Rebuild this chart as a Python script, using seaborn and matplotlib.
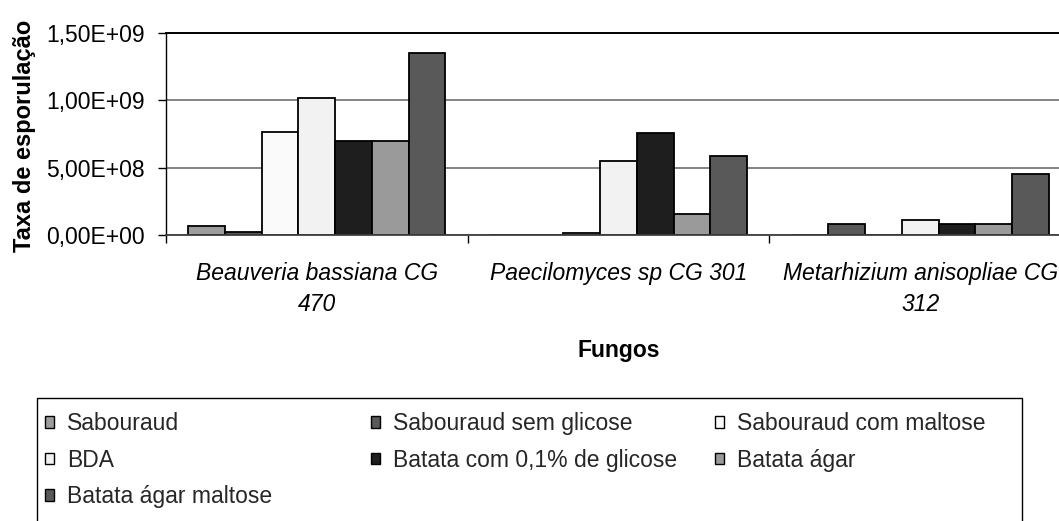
import matplotlib
matplotlib.use("Agg")
import numpy as np
import pandas as pd
import seaborn as sns
import matplotlib.pyplot as plt
from matplotlib.patches import Patch, Rectangle
from matplotlib.ticker import FuncFormatter

# ---------------- data ----------------
fungos = ["Beauveria bassiana CG\n470", "Paecilomyces sp CG 301", "Metarhizium anisopliae CG\n312"]
meios = ["Sabouraud", "Sabouraud sem glicose", "Sabouraud com maltose", "BDA",
         "Batata com 0,1% de glicose", "Batata ágar", "Batata ágar maltose"]

sabouraud = [7.0e7, 0.0, 0.0]
sabouraud_sem_glicose = [2.5e7, 0.0, 8.4e7]
sabouraud_com_maltose = [7.67e8, 1.5e7, 0.0]
bda = [1.015e9, 5.5e8, 1.1e8]
batata_glicose = [6.95e8, 7.55e8, 8.4e7]
batata_agar = [6.95e8, 1.58e8, 8.4e7]
batata_agar_maltose = [1.355e9, 5.9e8, 4.5e8]

series = [sabouraud, sabouraud_sem_glicose, sabouraud_com_maltose, bda,
          batata_glicose, batata_agar, batata_agar_maltose]
cores = ["#9d9d9d", "#595959", "#fafafa", "#f2f2f2", "#1e1e1e", "#9a9a9a", "#595959"]

rows = []
for meio, vals in zip(meios, series):
    for f, v in zip(fungos, vals):
        rows.append({"Fungo": f, "Meio": meio, "Taxa": v})
df = pd.DataFrame(rows)

# ---------------- figure ----------------
sns.set_theme(style="white")
plt.rcParams["font.family"] = ["Liberation Sans", "DejaVu Sans"]
FS = 16.5

W, H = 1059, 521
fig = plt.figure(figsize=(W / 100, H / 100), dpi=100)
ax = fig.add_axes([166 / W, 1 - 235 / H, 905 / W, 202 / H])

sns.barplot(data=df, x="Fungo", y="Taxa", hue="Meio", order=fungos, hue_order=meios,
            palette=cores, width=0.853, gap=0, edgecolor="black", linewidth=1.3,
            saturation=1, legend=False, errorbar=None, ax=ax)

ax.set_xlim(-0.5, 2.5)
ax.set_ylim(0, 1.5e9)
ax.set_yticks([0, 5e8, 1e9, 1.5e9])
ax.yaxis.set_major_formatter(FuncFormatter(lambda v, p: f"{v:.2E}".replace(".", ",")))
ax.yaxis.grid(True, color="#7a7a7a", lw=1.3)
ax.set_axisbelow(True)

ax.spines["right"].set_visible(False)
ax.spines["top"].set_color("black"); ax.spines["top"].set_linewidth(1.4)
ax.spines["left"].set_color("black"); ax.spines["left"].set_linewidth(1.0)
ax.spines["bottom"].set_color("#404040"); ax.spines["bottom"].set_linewidth(1.3)

ax.tick_params(axis="y", left=True, direction="out", length=6, width=1, color="black",
               labelsize=FS, pad=9.4, labelcolor="black")
ax.set_xticks([-0.5, 0.5, 1.5, 2.5], minor=True)
ax.tick_params(axis="x", which="minor", bottom=True, direction="out", length=6, width=1, color="black")
ax.tick_params(axis="x", which="major", bottom=False, length=0, pad=19.5, labelsize=FS, labelcolor="black")
for lbl in ax.get_xticklabels():
    lbl.set_fontstyle("italic")
    lbl.set_linespacing(1.45)

ax.set_xlabel("Fungos", fontsize=FS, fontweight="bold", color="black", va="center")
ax.xaxis.set_label_coords((619 - 166) / 905, (235 - 350.5) / 202)
ax.set_ylabel("Taxa de esporulação", fontsize=17, fontweight="bold", color="black", va="center")
ax.yaxis.set_label_coords((25 - 166) / 905, (235 - 136) / 202)

# ---------------- legend ----------------
handles = [Patch(facecolor=c, edgecolor="black", linewidth=1.0) for c in cores]
colunas = [[0, 3, 6], [1, 4], [2, 5]]
xs = [45, 371, 715]
for idx, x in zip(colunas, xs):
    fig.legend(handles=[handles[i] for i in idx], labels=[meios[i] for i in idx],
               loc="upper left", bbox_to_anchor=(x / W, 1 - 412 / H),
               bbox_transform=fig.transFigure, frameon=False, borderpad=0,
               borderaxespad=0, handlelength=0.4, handleheight=0.4,
               handletextpad=0.57, labelspacing=0.59, fontsize=FS)
fig.add_artist(Rectangle((36.7 / W, -0.1), (1022 - 36.7) / W, (1 - 398 / H) + 0.1,
                         transform=fig.transFigure, fill=False, edgecolor="black",
                         linewidth=1.0, clip_on=False))

fig.savefig("out.png", dpi=100)
